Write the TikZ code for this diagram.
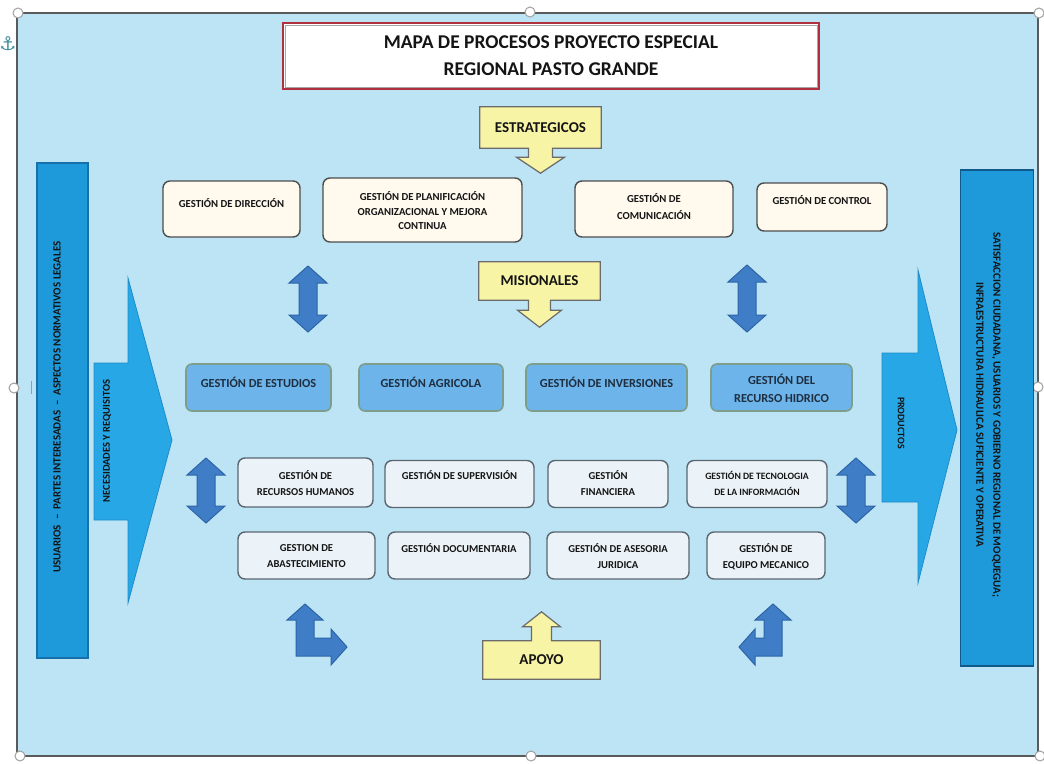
\documentclass[tikz,border=0pt]{standalone}
\usepackage{fontspec}
\setmainfont{Carlito}
\newfontfamily\symfont{DejaVu Sans}
\usetikzlibrary{calc}
\pgfdeclarelayer{back}
\pgfsetlayers{back,main}
\definecolor{bgblue}{HTML}{BCE4F5}
\definecolor{framegray}{HTML}{5A5A5A}
\definecolor{handlegray}{HTML}{A0A0A0}
\definecolor{titlered}{HTML}{B03040}
\definecolor{creamc}{HTML}{FFF9EE}
\definecolor{stratline}{HTML}{4D4D4D}
\definecolor{misfill}{HTML}{6CB4EA}
\definecolor{misline}{HTML}{7D9E8A}
\definecolor{supfill}{HTML}{ECF3F8}
\definecolor{supline}{HTML}{5B6670}
\definecolor{yellowc}{HTML}{F8F4A6}
\definecolor{callline}{HTML}{6B6B6B}
\definecolor{dblfill}{HTML}{3F7EC6}
\definecolor{dblline}{HTML}{2D64A6}
\definecolor{arrowfill}{HTML}{27A7E6}
\definecolor{arrowline}{HTML}{1F8BC9}
\definecolor{barfill}{HTML}{1E9ADA}
\definecolor{barline}{HTML}{1670AC}
\definecolor{txtc}{HTML}{141414}
\definecolor{mtxtc}{HTML}{1F2E40}
\definecolor{anchorc}{HTML}{3C8C9C}
\newcommand\vdblarrow[3]{%
  \draw[dblshape] (#1,#2) -- ({#1+19},{#2+17}) -- ({#1+9},{#2+17}) -- ({#1+9},{#3-17})
   -- ({#1+19},{#3-17}) -- (#1,#3) -- ({#1-19},{#3-17}) -- ({#1-9},{#3-17})
   -- ({#1-9},{#2+17}) -- ({#1-19},{#2+17}) -- cycle;}
\begin{document}
\begin{tikzpicture}[x=1pt,y=-1pt,
  framestyle/.style={fill=bgblue, draw=framegray, line width=1.3pt},
  handle/.style={fill=white, draw=handlegray, line width=1pt},
  titlebox/.style={fill=white, draw=titlered, line width=2pt, minimum width=536, minimum height=66,
    inner sep=0, align=center, font=\bfseries\fontsize{19.5}{27}\selectfont, text=txtc},
  stratbox/.style={rounded corners=7pt, fill=creamc, draw=stratline, line width=1.4pt, inner sep=0},
  misbox/.style={rounded corners=6pt, fill=misfill, draw=misline, line width=1.6pt, inner sep=0},
  supbox/.style={rounded corners=7pt, fill=supfill, draw=supline, line width=1.4pt, inner sep=0},
  btxt/.style={font=\bfseries\fontsize{10.7}{14.5}\selectfont, align=center, text=txtc, inner sep=0},
  mtxt/.style={font=\bfseries\fontsize{12.3}{18}\selectfont, align=center, text=mtxtc, inner sep=0},
  stxt/.style={font=\bfseries\fontsize{10.6}{16}\selectfont, align=center, text=txtc, inner sep=0},
  callbox/.style={draw=none, inner sep=0, font=\bfseries\fontsize{15}{17}\selectfont, text=txtc},
  callshape/.style={fill=yellowc, draw=callline, line width=1.2pt},
  dblshape/.style={fill=dblfill, draw=dblline, line width=1pt, line join=miter},
  bigarrow/.style={fill=arrowfill, draw=arrowline, line width=0.8pt},
  barstyle/.style={fill=barfill, draw=barline, line width=1.5pt, inner sep=0},
  vtxt/.style={font=\bfseries\fontsize{11}{17}\selectfont, text=txtc, inner sep=0, align=center}
]
\useasboundingbox (0,0) rectangle (1044,763);
\begin{pgfonlayer}{back}
\fill[white] (0,0) rectangle (1044,763);
\draw[framestyle] (17,13) rectangle (1038,756);
\end{pgfonlayer}
\draw[framegray!60, line width=0.8pt] (31,381) -- (31,394);
\foreach \p in {(18,13),(530,12),(1039,13),(14,388),(1038,387),(20,756),(531,756),(1040,756)}
  \draw[handle] \p circle[radius=5pt];
\node[text=anchorc, font=\symfont\fontsize{19}{19}\selectfont, inner sep=0] (anch) at (8,44) {⚓};

% title
\node[titlebox] (title) at (551,56) {MAPA DE PROCESOS PROYECTO ESPECIAL\\REGIONAL PASTO GRANDE};
\draw[gray!70, line width=0.6pt] ([shift={(3,3)}]title.north west) rectangle ([shift={(-3,-3)}]title.south east);

% callouts
\node[callbox, minimum width=121, minimum height=41] (estr) at (540.5,127.5) {ESTRATEGICOS};
\node[callbox, minimum width=121, minimum height=38] (misi) at (539.5,281) {MISIONALES};
\node[callbox, minimum width=117, minimum height=38] (apoyo) at (541.5,660) {APOYO};
\begin{pgfonlayer}{back}
\draw[callshape] (estr.north west) -- (estr.north east) -- (estr.south east)
  -- ($(estr.south)+(12,0)$) -- ($(estr.south)+(12,9)$) -- ($(estr.south)+(24,9)$)
  -- ($(estr.south)+(0,25)$) -- ($(estr.south)+(-24,9)$) -- ($(estr.south)+(-12,9)$)
  -- ($(estr.south)+(-12,0)$) -- (estr.south west) -- cycle;
\draw[callshape] (misi.north west) -- (misi.north east) -- (misi.south east)
  -- ($(misi.south)+(11,0)$) -- ($(misi.south)+(11,10)$) -- ($(misi.south)+(22,10)$)
  -- ($(misi.south)+(0,27)$) -- ($(misi.south)+(-22,10)$) -- ($(misi.south)+(-11,10)$)
  -- ($(misi.south)+(-11,0)$) -- (misi.south west) -- cycle;
\draw[callshape] (apoyo.south west) -- (apoyo.south east) -- (apoyo.north east)
  -- ($(apoyo.north)+(10,0)$) -- ($(apoyo.north)+(10,-14)$) -- ($(apoyo.north)+(19,-14)$)
  -- ($(apoyo.north)+(0,-29)$) -- ($(apoyo.north)+(-19,-14)$) -- ($(apoyo.north)+(-10,-14)$)
  -- ($(apoyo.north)+(-10,0)$) -- (apoyo.north west) -- cycle;
\end{pgfonlayer}

% strategic boxes
\node[stratbox, minimum width=137, minimum height=56] (sdir) at (231.5,209) {};
\node[btxt] (sdirT) at (231.5,203) {GESTIÓN DE DIRECCIÓN};
\node[stratbox, minimum width=199, minimum height=64] (splan) at (422.5,210) {};
\node[btxt] (splanT) at (422.5,211) {GESTIÓN DE PLANIFICACIÓN\\ORGANIZACIONAL Y MEJORA\\CONTINUA};
\node[stratbox, minimum width=158, minimum height=56] (scom) at (654,209) {};
\node[btxt, font=\bfseries\fontsize{10.7}{17}\selectfont] (scomT) at (654,207) {GESTIÓN DE\\COMUNICACIÓN};
\node[stratbox, minimum width=130, minimum height=48] (sctl) at (822,207) {};
\node[btxt] (sctlT) at (822,200.5) {GESTIÓN DE CONTROL};

% misional boxes
\node[misbox, minimum width=145, minimum height=47] (mest) at (258.5,387.5) {};
\node[mtxt] (mestT) at (258.5,382) {GESTIÓN DE ESTUDIOS};
\node[misbox, minimum width=144, minimum height=47] (magr) at (431,387.5) {};
\node[mtxt] (magrT) at (431,382) {GESTIÓN AGRICOLA};
\node[misbox, minimum width=161, minimum height=47] (minv) at (606.5,387.5) {};
\node[mtxt] (minvT) at (606.5,382) {GESTIÓN DE INVERSIONES};
\node[misbox, minimum width=141, minimum height=47] (mhid) at (781.5,387.5) {};
\node[mtxt] (mhidT) at (781.5,388) {GESTIÓN DEL\\RECURSO HIDRICO};

% support boxes row 1
\node[supbox, minimum width=135, minimum height=49] (rrhh) at (305.5,482.5) {};
\node[stxt] (rrhhT) at (305.5,483) {GESTIÓN DE\\RECURSOS HUMANOS};
\node[supbox, minimum width=149, minimum height=47] (rsup) at (459.5,484) {};
\node[stxt] (rsupT) at (459.5,475.5) {GESTIÓN DE SUPERVISIÓN};
\node[supbox, minimum width=120, minimum height=47] (rfin) at (608,484) {};
\node[stxt] (rfinT) at (608,483) {GESTIÓN\\FINANCIERA};
\node[supbox, minimum width=140, minimum height=47] (rtic) at (757,484) {};
\node[stxt, font=\bfseries\fontsize{9.7}{16}\selectfont] (rticT) at (757,483) {GESTIÓN DE TECNOLOGIA\\DE LA INFORMACIÓN};
% support boxes row 2
\node[supbox, minimum width=137, minimum height=47] (rabs) at (306.5,555.5) {};
\node[stxt] (rabsT) at (306.5,556.5) {GESTION DE\\ABASTECIMIENTO};
\node[supbox, minimum width=142, minimum height=47] (rdoc) at (459,555.5) {};
\node[stxt] (rdocT) at (459,548.5) {GESTIÓN DOCUMENTARIA};
\node[supbox, minimum width=142, minimum height=47] (rjur) at (618,555.5) {};
\node[stxt] (rjurT) at (618,556.5) {GESTIÓN DE ASESORIA\\JURIDICA};
\node[supbox, minimum width=118, minimum height=47] (rmec) at (766,555.5) {};
\node[stxt] (rmecT) at (766,556.5) {GESTIÓN DE\\EQUIPO MECANICO};

% double arrows
\vdblarrow{308}{266}{332}
\vdblarrow{747}{265}{332}
\vdblarrow{206}{458}{523}
\vdblarrow{856}{458}{523}

% bent arrows
\draw[dblshape] (305,604) -- (323,620) -- (314,620) -- (314,638) -- (331,638) -- (331,629)
  -- (347,647) -- (331,665) -- (331,656) -- (296,656) -- (296,620) -- (287,620) -- cycle;
\draw[dblshape] (773,604) -- (791,620) -- (782,620) -- (782,656) -- (755,656) -- (755,665)
  -- (739,647) -- (755,629) -- (755,638) -- (764,638) -- (764,620) -- (755,620) -- cycle;

% left side
\node[barstyle, minimum width=51, minimum height=495] (lbar) at (62.5,410.5) {};
\node[vtxt, rotate=90] (lbarT) at (57,407) {USUARIOS\ \ –\ \ PARTES INTERESADAS\ \ –\ \ ASPECTOS NORMATIVOS LEGALES};
\draw[bigarrow] (94,363) -- (128,363) -- (128,278) -- (172,440) -- (128,603) -- (128,520) -- (94,520) -- cycle;
\node[vtxt, font=\bfseries\fontsize{10.5}{12}\selectfont, rotate=90] (necT) at (107,441) {NECESIDADES Y REQUISITOS};

% right side
\draw[bigarrow] (882,353) -- (918,353) -- (918,270) -- (957,430) -- (918,583) -- (918,502) -- (882,502) -- cycle;
\node[vtxt, font=\bfseries\fontsize{10}{12}\selectfont, rotate=-90] (prodT) at (901,423) {PRODUCTOS};
\node[barstyle, draw=barline!80!black, minimum width=73, minimum height=496] (rbar) at (997,418) {};
\node[vtxt, rotate=-90] (rbarT) at (988.5,415) {SATISFACCION CIUDADANA, USUARIOS Y GOBIERNO REGIONAL DE MOQUEGUA;\\INFRAESTRUCTURA HIDRAULICA SUFICIENTE Y OPERATIVA};
\end{tikzpicture}
\end{document}
